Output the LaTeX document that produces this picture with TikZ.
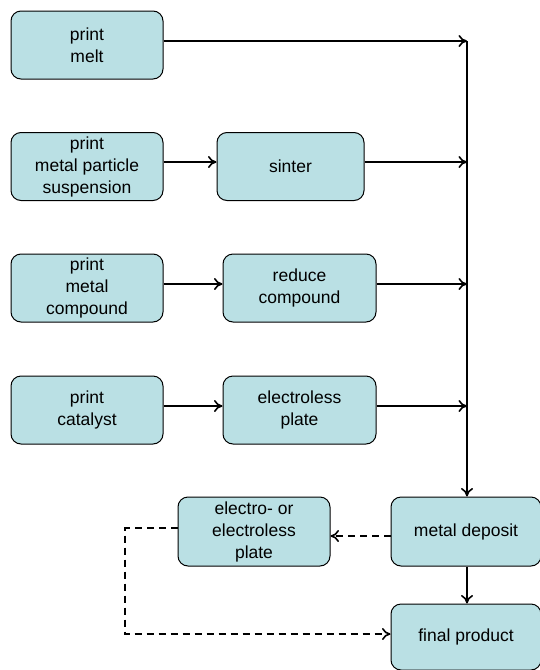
\documentclass[tikz,border=0pt]{standalone}
\usepackage{fontspec}
\setmainfont{Liberation Sans}
\usetikzlibrary{arrows.meta}
\definecolor{boxfill}{RGB}{186,224,228}
\tikzset{
  box/.style={draw=black, line width=1pt, fill=boxfill, rounded corners=10pt,
    align=center, inner sep=0pt, font=\fontsize{17.5}{22}\selectfont},
  flow/.style={line width=1.9pt, -{To[length=8.5pt,width=12pt,line width=1.6pt]}},
  dflow/.style={flow, dash pattern=on 7pt off 5pt},
}
\begin{document}
\begin{tikzpicture}[x=1pt,y=-1pt]
\useasboundingbox (0,0) rectangle (539,670);
\node[box, minimum width=152pt, minimum height=68pt] (melt) at (87,45) {print\\melt};
\node[box, minimum width=152pt, minimum height=68pt] (susp) at (87,166.5) {print\\metal particle\\suspension};
\node[box, minimum width=147pt, minimum height=68pt] (sinter) at (290.5,166.5) {sinter};
\node[box, minimum width=152pt, minimum height=68pt] (comp) at (87,288) {print\\metal\\compound};
\node[box, minimum width=153pt, minimum height=68pt] (reduce) at (299.5,288) {reduce\\compound};
\node[box, minimum width=152pt, minimum height=68pt] (cat) at (87,410) {print\\catalyst};
\node[box, minimum width=153pt, minimum height=68pt] (eplate) at (299.5,410) {electroless\\plate};
\node[box, minimum width=152pt, minimum height=69pt] (eorplate) at (254,531.5) {electro- or\\electroless\\plate};
\node[box, minimum width=150pt, minimum height=69pt] (deposit) at (466,531.5) {metal deposit};
\node[box, minimum width=150pt, minimum height=66pt] (final) at (466,637) {final product};

\coordinate (top) at (467,41);
\coordinate (j2) at (467,162);
\coordinate (j3) at (467,284);
\coordinate (j4) at (467,406);

\draw[line width=1.9pt] (top) -- (j4);
\draw[flow] (j4) -- (deposit.north -| top);
\draw[flow] (melt.east |- top) -- (top);
\draw[flow] (susp.east |- j2) -- (sinter.west |- j2);
\draw[flow] (sinter.east |- j2) -- (j2);
\draw[flow] (comp.east |- j3) -- (reduce.west |- j3);
\draw[flow] (reduce.east |- j3) -- (j3);
\draw[flow] (cat.east |- j4) -- (eplate.west |- j4);
\draw[flow] (eplate.east |- j4) -- (j4);
\draw[flow] (deposit.south -| top) -- (final.north -| top);
\coordinate (dy) at (0,536);
\draw[dflow] (deposit.west |- dy) -- (eorplate.east |- dy);
\coordinate (ly) at (0,528);
\coordinate (by) at (0,634);
\coordinate (lx) at (125,0);
\draw[dflow] (eorplate.west |- ly) -- (lx |- ly) -- (lx |- by) -- (final.west |- by);
\end{tikzpicture}
\end{document}
